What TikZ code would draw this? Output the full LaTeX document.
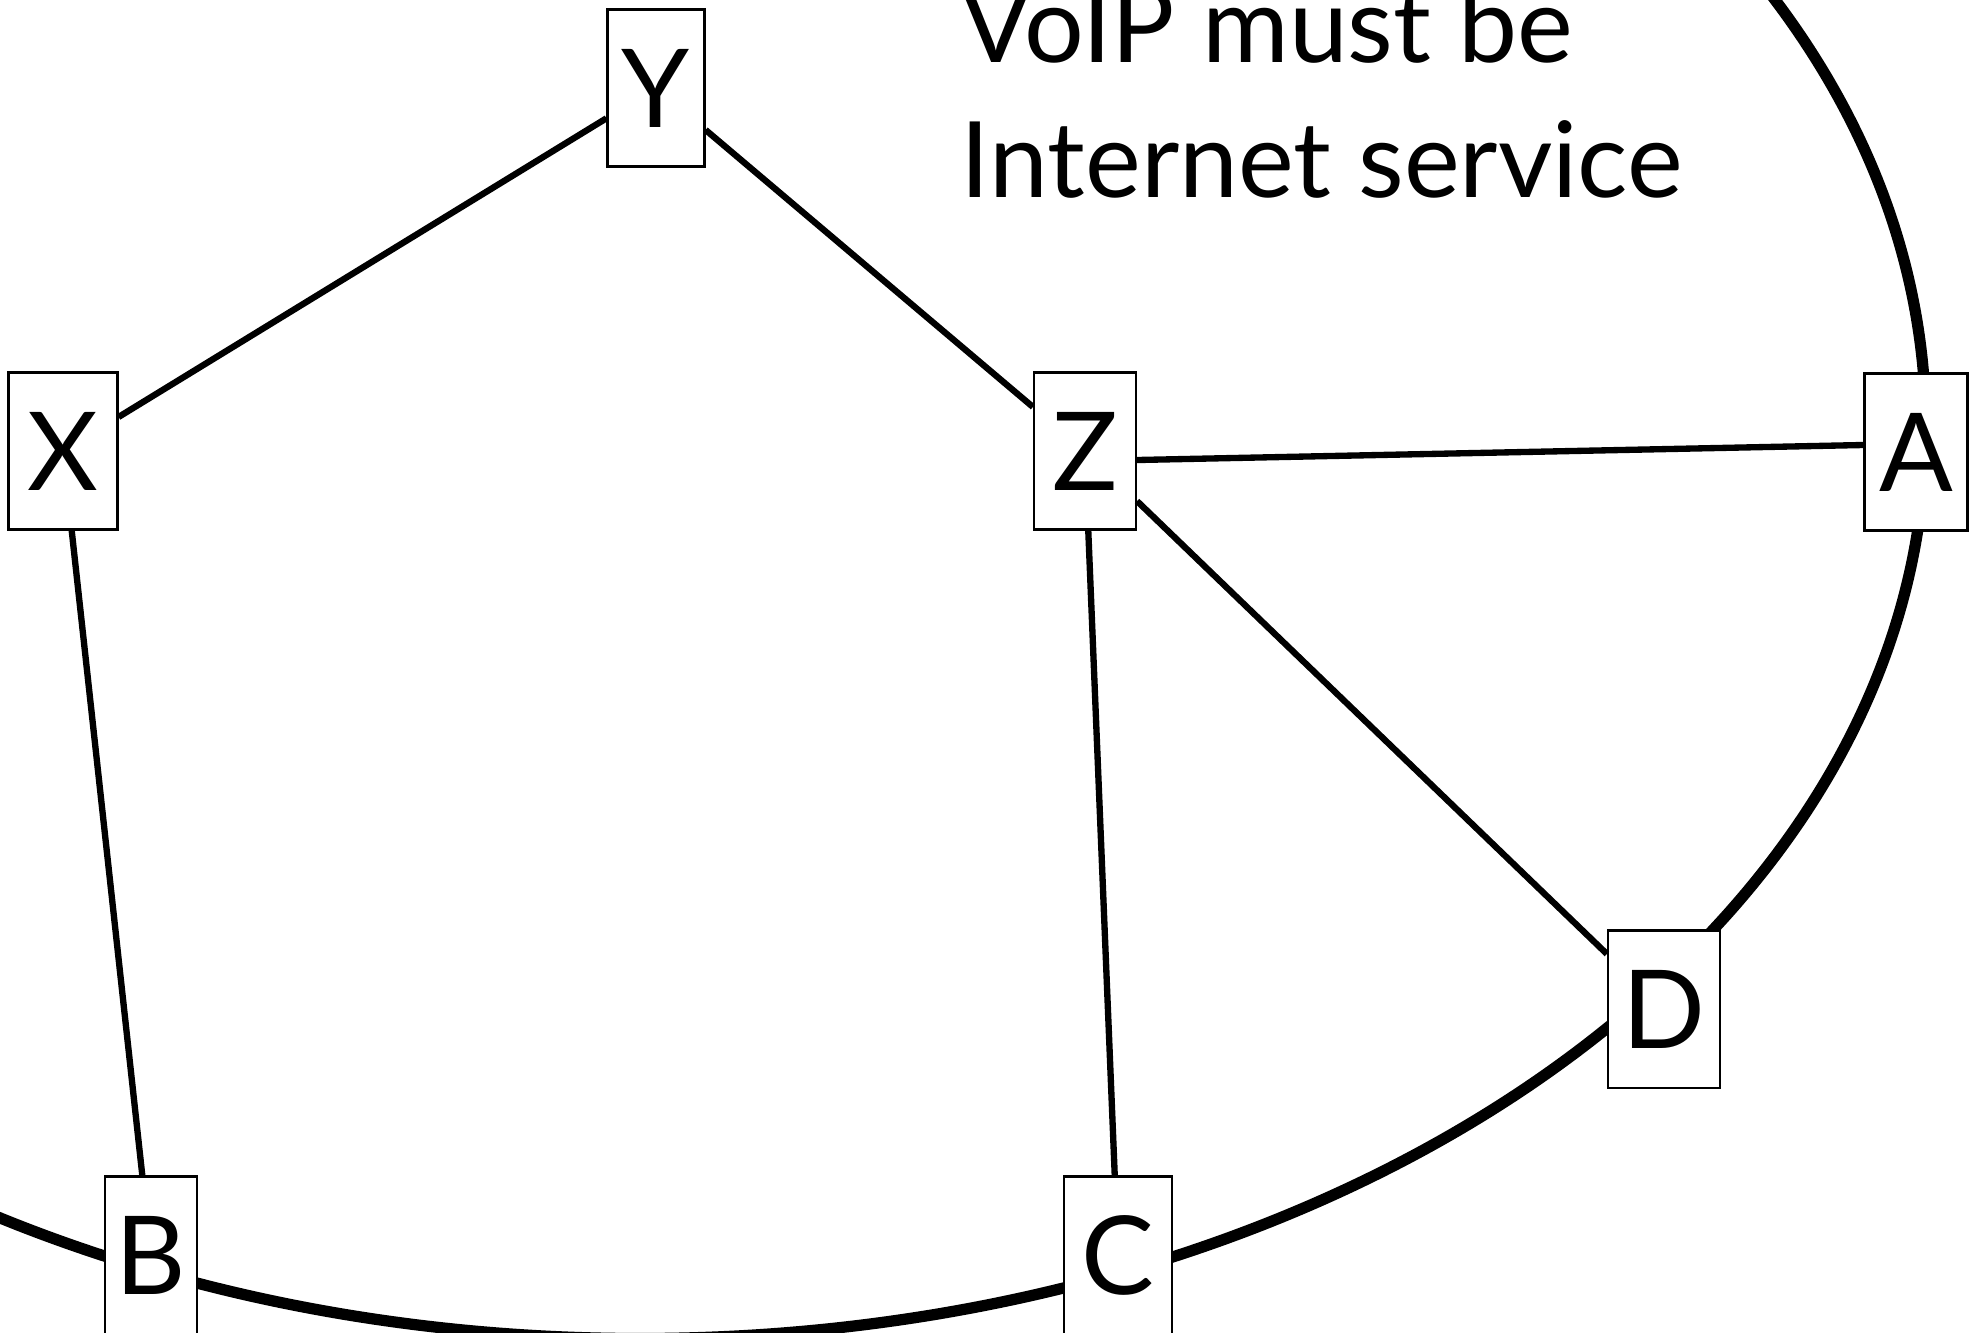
\documentclass[tikz,border=0pt]{standalone}
\usepackage{fontspec}
\setmainfont{Lato}
\usetikzlibrary{positioning}
\tikzset{
    host/.style={rectangle, draw, line width=0.6pt, fill=white, minimum height=1.57cm, inner xsep=0pt, inner ysep=0pt, font=\fontsize{31}{38}\selectfont},
    link/.style={line width=1.8pt},
    backbone/.style={line width=3.2pt},
}
\begin{document}
\begin{tikzpicture}[x=0.01cm, y=-0.01cm]
    \useasboundingbox (0,0) rectangle (1969,1333);
    \clip (0,0) rectangle (1969,1333);

    % Internet ring
    \draw[backbone] (640,428) ellipse [x radius=12.85cm, y radius=9.10cm];

    % Hosts
    \node[host, minimum width=0.97cm] (Y) at (656,88) {Y};
    \node[host, minimum width=1.09cm] (X) at (63,451) {X};
    \node[host, minimum width=1.02cm] (Z) at (1085,451) {Z};
    \node[host, minimum width=1.03cm] (A) at (1916,452) {A};
    \node[host, minimum width=1.12cm] (D) at (1664,1009) {D};
    \node[host, minimum width=0.92cm] (B) at (151,1255) {B};
    \node[host, minimum width=1.08cm] (C) at (1118,1255) {C};

    \draw[link] (X) -- (Y);
    \draw[link] (Y) -- (Z);
    \draw[link] (X) -- (B);
    \draw[link] ([yshift=-0.09cm]Z.east) -- ([yshift=0.07cm]A.west);
    \draw[link] (Z) -- (C);
    \draw[link] (Z) -- (D);

    % Caption
    \node[anchor=north west, inner sep=0pt, align=left, font=\fontsize{30}{38.5}\selectfont] (note) at (960,-16) {VoIP must be\\Internet service};
\end{tikzpicture}
\end{document}
